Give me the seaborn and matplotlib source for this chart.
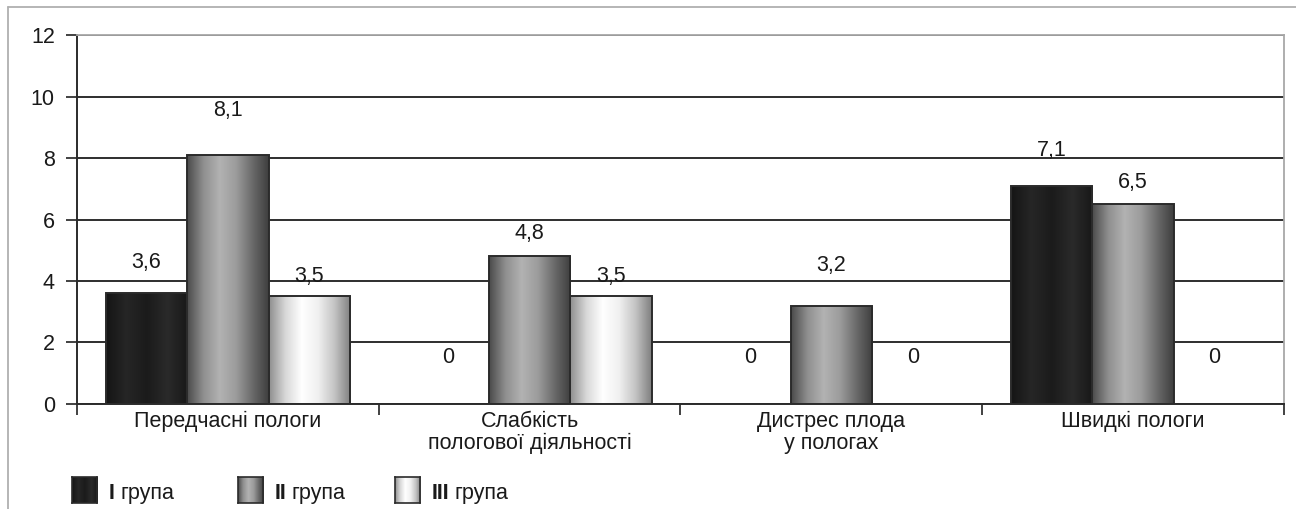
import numpy as np
import pandas as pd
import matplotlib
matplotlib.use('Agg')
import matplotlib.pyplot as plt
import seaborn as sns
from matplotlib.colors import LinearSegmentedColormap
from matplotlib.lines import Line2D

# Data
categories = ['Передчасні пологи', 'Слабкість\nпологової діяльності',
              'Дистрес плода\nу пологах', 'Швидкі пологи']
groups = ['I група', 'II група', 'III група']
group_1 = [3.6, 0, 0, 7.1]
group_2 = [8.1, 4.8, 3.2, 6.5]
group_3 = [3.5, 3.5, 0, 0]
y_ticks = [0, 2, 4, 6, 8, 10, 12]

# how high above each bar its label sits (data units), per group
label_lift = [[1.0, 1.5, 1.5, 1.15],
              [1.45, 0.75, 1.3, 0.7],
              [0.65, 0.65, 1.5, 1.5]]

df = pd.DataFrame({
    'category': categories * 3,
    'group': [g for g in groups for _ in categories],
    'value': group_1 + group_2 + group_3,
})

# left-to-right shading of each series
shades = {
    'I група': ['#151515', '#262626', '#1b1b1b', '#2a2a2a', '#181818'],
    'II група': ['#4a4a4a', '#8f8f8f', '#b2b2b2', '#9c9c9c', '#6a6a6a', '#3e3e3e'],
    'III група': ['#8e8e8e', '#d8d8d8', '#ffffff', '#f0f0f0', '#c4c4c4', '#7e7e7e'],
}
cmaps = {g: LinearSegmentedColormap.from_list(g, c) for g, c in shades.items()}
grad = np.linspace(0, 1, 256).reshape(1, -1)

FS = 15.5

sns.set_theme(style='white')
plt.rcParams['font.family'] = ['Liberation Sans', 'DejaVu Sans']

fig = plt.figure(figsize=(12.96, 5.09), dpi=100)
ax = fig.add_axes([0.0594, 0.2063, 0.9313, 0.7249])

sns.barplot(data=df, x='category', y='value', hue='group', order=categories,
            hue_order=groups, palette=['#1e1e1e', '#909090', '#e0e0e0'],
            width=0.81, edgecolor='#2b2b2b', linewidth=1.4, legend=False, ax=ax)

# gradient fill clipped to each bar
for gi, cont in enumerate(ax.containers):
    for bar in cont:
        h = bar.get_height()
        if h <= 0:
            continue
        x0 = bar.get_x()
        x1 = x0 + bar.get_width()
        im = ax.imshow(grad, cmap=cmaps[groups[gi]], aspect='auto',
                       extent=(x0, x1, 0, h), zorder=bar.get_zorder() + 0.1)
        im.set_clip_path(bar)
        bar.set_facecolor('none')
        bar.set_zorder(bar.get_zorder() + 0.2)

# value labels
for gi, cont in enumerate(ax.containers):
    for ci, bar in enumerate(cont):
        v = bar.get_height()
        txt = '0' if v == 0 else f'{v:.1f}'.replace('.', ',')
        ax.text(bar.get_x() + bar.get_width() / 2, v + label_lift[gi][ci], txt,
                ha='center', va='center', fontsize=FS, color='#1a1a1a')

ax.set_xlim(-0.5, len(categories) - 0.5)
ax.set_ylim(0, 12)
ax.set_yticks(y_ticks)
ax.set_xlabel('')
ax.set_ylabel('')

ax.yaxis.grid(True, color='#1e1e1e', linewidth=1.3)
ax.set_axisbelow(True)

ax.tick_params(axis='y', which='major', length=8, width=1.3, color='#333333',
               direction='out', pad=8, labelsize=FS, labelcolor='#1a1a1a', left=True)
ax.tick_params(axis='x', which='major', length=0, pad=5, labelsize=FS,
               labelcolor='#1a1a1a')
ax.set_xticks(np.arange(-0.5, len(categories)), minor=True)
ax.tick_params(axis='x', which='minor', length=8, width=1.3, color='#333333',
               direction='out', bottom=True)
for lbl in ax.get_xticklabels():
    lbl.set_linespacing(1.05)

for side in ['left', 'bottom']:
    ax.spines[side].set_color('#2b2b2b')
    ax.spines[side].set_linewidth(1.4)
for side in ['top', 'right']:
    ax.spines[side].set_color('#a8a8a8')
    ax.spines[side].set_linewidth(1.3)

# legend drawn by hand so spacing matches the source
legend_x = [0.0556, 0.1836, 0.3048]
renderer = fig.canvas.get_renderer()
for g, lx in zip(groups, legend_x):
    lax = fig.add_axes([lx, 0.012, 0.0193, 0.051])
    lax.imshow(grad, cmap=cmaps[g], aspect='auto')
    lax.set_xticks([])
    lax.set_yticks([])
    for s in lax.spines.values():
        s.set_color('#2b2b2b')
        s.set_linewidth(1.2)
    numeral, word = g.split(' ')
    t = fig.text(lx + 0.0285, 0.031, numeral, fontsize=FS, fontweight='bold',
                 color='#1a1a1a', va='center')
    bb = t.get_window_extent(renderer).transformed(fig.transFigure.inverted())
    fig.text(bb.x1 + 0.004, 0.031, word, fontsize=FS, color='#1a1a1a', va='center')

# thin outer frame like the source page
fig.add_artist(Line2D([0.006, 1.0], [0.986, 0.986], color='#b0b0b0', lw=1.3,
                      transform=fig.transFigure))
fig.add_artist(Line2D([0.006, 0.006], [0.0, 0.986], color='#b0b0b0', lw=1.3,
                      transform=fig.transFigure))

fig.savefig('out.png', dpi=100, facecolor='white')
